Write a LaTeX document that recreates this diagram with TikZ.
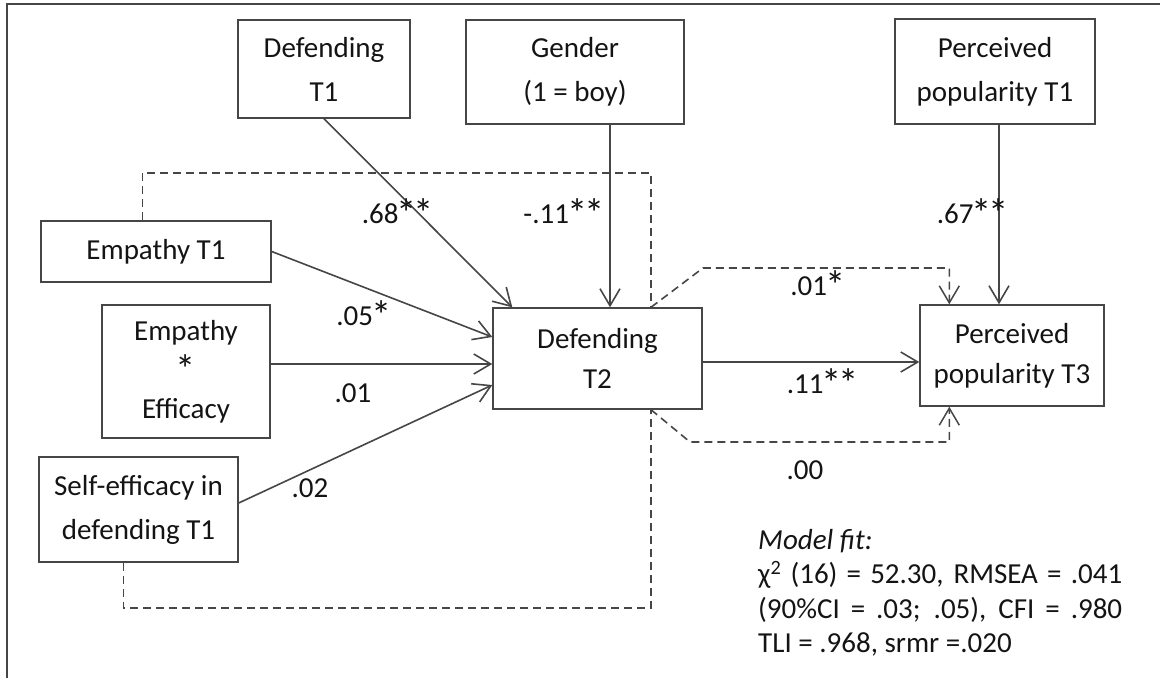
\documentclass[tikz,border=0pt]{standalone}
\usepackage{fontspec}
\usepackage{graphicx}
\setmainfont{Carlito}
\usetikzlibrary{calc,arrows.meta}

\definecolor{linegray}{RGB}{70,70,70}
\definecolor{textgray}{RGB}{20,20,20}

% larger asterisk, as in the printed figure
\newcommand{\sig}{\kern-0.06em\raisebox{-0.14em}{\scalebox{1.4}{*}}\kern-0.06em}

\tikzset{
	var/.style={draw=linegray, line width=1.4pt, align=center, inner sep=0pt,
		text=textgray, font=\fontsize{29}{44}\selectfont},
	lbl/.style={inner sep=0pt, text=textgray, font=\fontsize{29}{34.5}\selectfont},
	effect/.style={draw=linegray, line width=1.6pt,
		-{Straight Barb[length=17pt,width=20pt,line width=1.6pt]}},
	covline/.style={draw=linegray, line width=1.6pt, dash pattern=on 8pt off 5pt},
	indirect/.style={covline, -{Straight Barb[length=17pt,width=20pt,line width=1.5pt]}}
}

\begin{document}
\begin{tikzpicture}[x=1pt,y=-1pt]
	\useasboundingbox (0,0) rectangle (1160,678);

	% Frame
	\draw[linegray, line width=2pt] (6.5,678) -- (6.5,4) -- (1160,4);

	% Variables
	\node[var, minimum width=172pt, minimum height=98pt]  (dt1)  at (324,69)     {Defending\\T1};
	\node[var, minimum width=218pt, minimum height=104pt] (gen)  at (575,72)     {Gender\\(1 = boy)};
	\node[var, minimum width=200pt, minimum height=105pt] (ppt1) at (995,71.5)   {Perceived\\popularity T1};
	\node[var, minimum width=230pt, minimum height=61pt]  (et1)  at (156,251.5)  {Empathy T1};
	\node[var, minimum width=168pt, minimum height=133pt, font=\fontsize{29}{39}\selectfont]
		(ee) at (186,371.5) {Empathy\\\sig\\Efficacy};
	\node[var, minimum width=199pt, minimum height=105pt] (se)   at (138.5,509.5) {Self-efficacy in\\defending T1};
	\node[var, minimum width=209pt, minimum height=101pt, font=\fontsize{29}{40}\selectfont]
		(dt2) at (597.5,358.5) {Defending\\T2};
	\node[var, minimum width=184pt, minimum height=101pt, font=\fontsize{29}{40}\selectfont]
		(ppt3) at (1012,355.5) {Perceived\\popularity T3};

	% Turning points of the dashed paths
	\coordinate (topturn) at (651,173);
	\coordinate (botturn) at (651,608);
	\coordinate (indup)   at (703,268);
	\coordinate (inddown) at (690,442);

	% Direct effects
	\draw[effect] (dt1.south) -- ($(dt2.north west)+(20,0)$);
	\draw[effect] (gen.south -| 610,0) -- (dt2.north -| 610,0);
	\draw[effect] (et1.east) -- ($(dt2.west)+(0,-21.5)$);
	\draw[effect] ($(ee.east)+(0,-7.5)$) -- ($(dt2.west)+(0,5.5)$);
	\draw[effect] ($(se.east)+(0,-6.5)$) -- ($(dt2.west)+(0,26.5)$);
	\draw[effect] (ppt1.south -| 999,0) -- (ppt3.north -| 999,0);
	\draw[effect] ($(dt2.east)+(0,3.5)$) -- ($(ppt3.west)+(0,6.5)$);

	% Dashed paths
	\draw[covline] ($(et1.north west)+(102,0)$) |- (topturn) -- (topturn |- dt2.north);
	\draw[covline] ($(se.south west)+(85,0)$) |- (botturn) -- (botturn |- dt2.south);
	\draw[indirect] (topturn |- dt2.north) -- (indup) -| ($(ppt3.north west)+(30,0)$);
	\draw[indirect] (botturn |- dt2.south) -- (inddown) -| ($(ppt3.south west)+(30,0)$);

	% Coefficients
	\node[lbl] (l68)  at (397,213) {.68\sig\sig};
	\node[lbl] (l11)  at (563,213) {-.11\sig\sig};
	\node[lbl] (l67)  at (972,213) {.67\sig\sig};
	\node[lbl] (l05)  at (363,315) {.05\sig};
	\node[lbl] (l01)  at (353,393) {.01};
	\node[lbl] (l02)  at (310,488) {.02};
	\node[lbl] (l01s) at (817,285) {.01\sig};
	\node[lbl] (l11b) at (822,383) {.11\sig\sig};
	\node[lbl] (l00)  at (805,470) {.00};

	% Model fit
	\node[lbl, anchor=north west, align=left] (mfit) at (758,529)
		{\textit{Model fit:}\\
		 \makebox[364pt][s]{χ\textsuperscript{2} (16) = 52.30, RMSEA = .041}\\
		 \makebox[364pt][s]{(90\%CI = .03; .05), CFI = .980}\\
		 TLI = .968, srmr =.020};
\end{tikzpicture}
\end{document}
